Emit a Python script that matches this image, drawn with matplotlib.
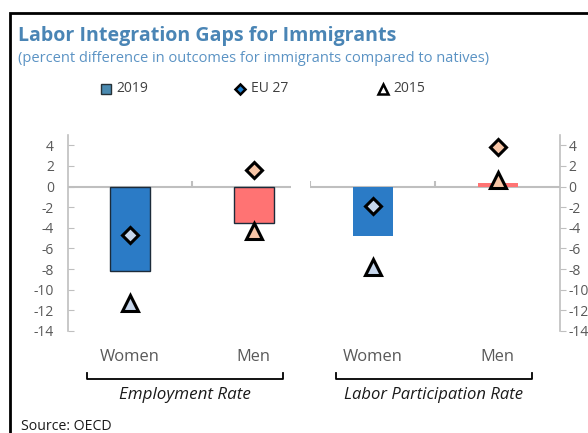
import matplotlib
matplotlib.use("Agg")
import matplotlib.pyplot as plt
from matplotlib.lines import Line2D
from matplotlib.patches import Rectangle

plt.rcParams['font.family'] = ['Open Sans', 'DejaVu Sans']
plt.rcParams['axes.unicode_minus'] = False

# ---------------- data ----------------
title = "Labor Integration Gaps for Immigrants"
subtitle = "(percent difference in outcomes for immigrants compared to natives)"
groups = ["Employment Rate", "Labor Participation Rate"]
categories = ["Women", "Men"]
bars_2019 = {"Employment Rate": [-8.2, -3.5], "Labor Participation Rate": [-4.8, 0.3]}
eu27 = {"Employment Rate": [-4.65, 1.65], "Labor Participation Rate": [-1.85, 3.85]}
y2015 = {"Employment Rate": [-11.3, -4.35], "Labor Participation Rate": [-7.8, 0.65]}
yticks = [4, 2, 0, -2, -4, -6, -8, -10, -12, -14]
legend_labels = ["2019", "EU 27", "2015"]
source = "Source: OECD"

# ---------------- styles ----------------
W, H = 588, 433
fig = plt.figure(figsize=(W / 100, H / 100), dpi=100)
renderer = fig.canvas.get_renderer()

def fx(px):
    return px / W

def fy(py):
    return 1 - py / H

def fit(t, width_px):
    bb = t.get_window_extent(renderer)
    t.set_fontsize(t.get_fontsize() * width_px / bb.width)

TITLE_C = '#4A85B5'
SUB_C = '#5B93C4'
GRAY = '#595959'
AXC = '#BFBFBF'
bar_colors = ['#2B7BC6', '#FF7373']
bar_edges = [['#1C2B3A', '#1C2B3A'], [None, None]]
marker_fill = ['#C6D6EC', '#F7C5A6']

# frame
fig.add_artist(Rectangle((fx(10), fy(700)), fx(800), fy(13) - fy(700),
                         transform=fig.transFigure, fill=False,
                         edgecolor='black', lw=2, clip_on=False))

# title & subtitle
t = fig.text(fx(18), fy(36), title, fontsize=13, fontweight='bold',
             color=TITLE_C, va='center', ha='left')
fit(t, 375)
t = fig.text(fx(18), fy(59), subtitle, fontsize=10, color=SUB_C,
             va='center', ha='left')
fit(t, 472)

# legend (manual)
leg_y = fy(89)
fig.add_artist(Line2D([fx(106)], [leg_y], marker='s', ms=6.5,
                      mfc='#4A8AB0', mec='#263238', mew=1.0, ls='none',
                      transform=fig.transFigure))
fig.add_artist(Line2D([fx(240)], [leg_y], marker='D', ms=5.5,
                      mfc='#1E7FD0', mec='black', mew=1.8, ls='none',
                      transform=fig.transFigure))
fig.add_artist(Line2D([fx(383)], [leg_y], marker='^', ms=7.5,
                      mfc='white', mec='black', mew=1.8, ls='none',
                      transform=fig.transFigure))
for xp, lab in zip([116, 251, 393], legend_labels):
    fig.text(fx(xp), leg_y, lab, fontsize=10, color='#404040',
             va='center', ha='left')

# axes
y_top_px, y_bot_px = 135, 331
ax_b = fy(y_bot_px)
ax_h = fy(y_top_px) - fy(y_bot_px)
ax1 = fig.add_axes([fx(68), ax_b, fx(291) - fx(68), ax_h])
ax2 = fig.add_axes([fx(310), ax_b, fx(560) - fx(310), ax_h])
ax1.set_xlim(-0.5, 1.3)
ax2.set_xlim(-0.5, 1.5)

x = [0, 1]
for gi, (ax, g) in enumerate(zip([ax1, ax2], groups)):
    ax.set_ylim(-14, 5)
    ax.patch.set_alpha(0)
    for s in ax.spines.values():
        s.set_visible(False)
    ax.set_xticks([])
    ax.axhline(0, color=AXC, lw=1.5, zorder=1)
    for i in range(2):
        ec = bar_edges[gi][i]
        ax.bar(x[i], bars_2019[g][i], width=0.32, color=bar_colors[i],
               edgecolor=ec if ec else bar_colors[i], lw=1.0 if ec else 0,
               zorder=2)
        ax.plot(x[i], eu27[g][i], marker='D', ms=8, mfc=marker_fill[i],
                mec='black', mew=2.2, ls='none', zorder=4)
        ax.plot(x[i], y2015[g][i], marker='^', ms=11, mfc=marker_fill[i],
                mec='black', mew=2.2, ls='none', zorder=4)
        tt = ax.text(x[i], -0.133, categories[i], transform=ax.get_xaxis_transform(),
                     ha='center', va='center', fontsize=11, color=GRAY,
                     clip_on=False)
        fit(tt, 60 if i == 0 else 34)

# small upward category separators on zero line
ax1.vlines([0.5], 0, 0.55, color=AXC, lw=1.5)
ax2.vlines([-0.5, 0.5], 0, 0.55, color=AXC, lw=1.5)

ax1.spines['left'].set_visible(True)
ax1.spines['left'].set_color(AXC)
ax1.spines['left'].set_linewidth(1.2)
ax1.set_yticks(yticks)
ax1.tick_params(axis='y', direction='in', length=4, color=AXC, pad=10,
                labelsize=10, labelcolor=GRAY)

ax2.spines['right'].set_visible(True)
ax2.spines['right'].set_color(AXC)
ax2.spines['right'].set_linewidth(1.2)
ax2.set_yticks(yticks)
ax2.yaxis.tick_right()
ax2.tick_params(axis='y', direction='out', length=4, color=AXC, pad=2,
                labelsize=10, labelcolor=GRAY)

# group brackets
for (x0, x1), g, w in zip([(87, 283), (336, 532)], groups, [131, 179]):
    fig.add_artist(Line2D([fx(x0), fx(x0), fx(x1), fx(x1)],
                          [fy(373), fy(379), fy(379), fy(373)],
                          color='black', lw=1.3, transform=fig.transFigure))
    tt = fig.text(fx((x0 + x1) / 2), fy(395), g, fontsize=11, style='italic',
                  color='#1A1A1A', ha='center', va='center')
    fit(tt, w)

t = fig.text(fx(21), fy(426), source, fontsize=10, color='#1A1A1A',
             ha='left', va='center')
fit(t, 91)

fig.savefig('out.png', dpi=100)
